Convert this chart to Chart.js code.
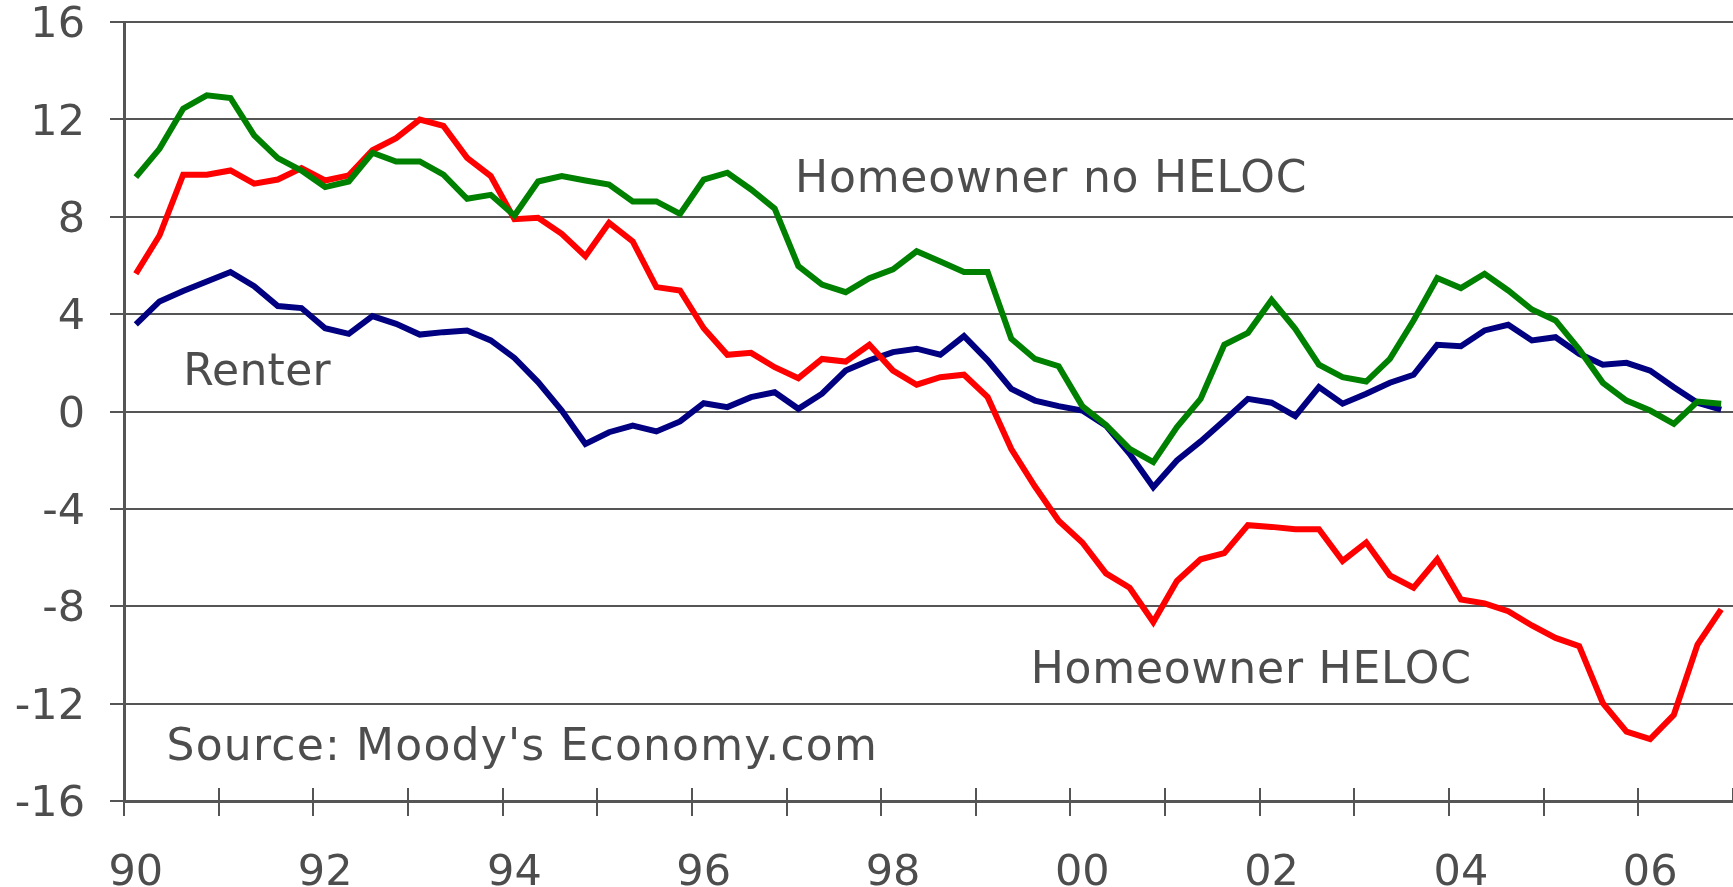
<!DOCTYPE html>
<html>
<head>
<meta charset="utf-8">
<script src="https://cdn.jsdelivr.net/npm/chart.js@4/dist/chart.umd.min.js"></script>
<style>
  html, body { margin: 0; padding: 0; background: #ffffff; }
  #wrap { width: 1733px; height: 887px; position: relative; }
</style>
</head>
<body>
<div id="wrap"><canvas id="c"></canvas></div>
<script>
// ---- data (quarterly, 1990Q1 .. 2006Q4) ----
const years = ['1990','1991','1992','1993','1994','1995','1996','1997','1998','1999','2000','2001','2002','2003','2004','2005','2006'];
const quarters = ['Q1','Q2','Q3','Q4'];
const categories = years.flatMap(y => quarters.map(q => y + ' ' + q));
const tickLabels = ['90','92','94','96','98','00','02','04','06'];
const yTicks = [-16,-12,-8,-4,0,4,8,12,16];

const homeownerNoHeloc = [
  9.63, 10.79, 12.44, 12.99, 12.88, 11.34, 10.41, 9.90, 9.22, 9.45,
  10.63, 10.27, 10.27, 9.73, 8.74, 8.90, 8.05, 9.45, 9.67, 9.49,
  9.32, 8.63, 8.63, 8.12, 9.53, 9.81, 9.12, 8.33, 5.97, 5.21,
  4.90, 5.48, 5.84, 6.58, 6.16, 5.73, 5.73, 2.99, 2.16, 1.86,
  0.22, -0.55, -1.53, -2.08, -0.64, 0.52, 2.74, 3.23, 4.58, 3.40,
  1.92, 1.41, 1.23, 2.16, 3.74, 5.48, 5.07, 5.66, 4.97, 4.19,
  3.74, 2.55, 1.18, 0.45, 0.04, -0.51, 0.41, 0.32
];
const homeownerHeloc = [
  5.66, 7.23, 9.73, 9.73, 9.90, 9.36, 9.53, 10.00, 9.49, 9.70,
  10.73, 11.23, 11.99, 11.73, 10.42, 9.67, 7.90, 7.96, 7.30, 6.38,
  7.75, 6.99, 5.11, 4.97, 3.42, 2.33, 2.41, 1.82, 1.37, 2.16,
  2.05, 2.74, 1.68, 1.10, 1.41, 1.51, 0.59, -1.54, -3.08, -4.49,
  -5.38, -6.65, -7.24, -8.65, -6.96, -6.07, -5.82, -4.67, -4.74, -4.84,
  -4.84, -6.14, -5.38, -6.73, -7.24, -6.07, -7.72, -7.88, -8.20, -8.79,
  -9.30, -9.64, -11.98, -13.15, -13.46, -12.46, -9.57, -8.13
];
const renter = [
  3.58, 4.52, 4.95, 5.34, 5.73, 5.15, 4.33, 4.25, 3.42, 3.19,
  3.92, 3.60, 3.16, 3.26, 3.33, 2.92, 2.20, 1.21, 0.04, -1.33,
  -0.85, -0.58, -0.82, -0.41, 0.34, 0.18, 0.59, 0.79, 0.11, 0.73,
  1.68, 2.10, 2.44, 2.58, 2.33, 3.10, 2.10, 0.93, 0.45, 0.22,
  0.04, -0.58, -1.74, -3.11, -2.01, -1.23, -0.37, 0.52, 0.36, -0.19,
  1.00, 0.32, 0.73, 1.18, 1.51, 2.74, 2.68, 3.33, 3.56, 2.92,
  3.05, 2.37, 1.92, 2.00, 1.68, 1.00, 0.36, 0.08
];

// annotation texts anchored in data space: [text, category index, value, letter spacing]
const annotations = [
  ['Homeowner no HELOC', 27.86, 9.0, '0.8px'],
  ['Renter', 2.0, 1.1, '0.3px'],
  ['Homeowner HELOC', 37.82, -11.15, '0.8px'],
  ['Source: Moody\'s Economy.com', 1.3, -14.33, '1.2px']
];

const TEXT = '#4d4d4d';
const GRID = '#555555';

const upperTicks = {
  id: 'upperTicks',
  afterDraw(chart) {
    const xs = chart.scales.x;
    const ctx = chart.ctx;
    const half = (xs.getPixelForValue(1) - xs.getPixelForValue(0)) / 2;
    ctx.save();
    ctx.strokeStyle = GRID;
    ctx.lineWidth = 2;
    for (let i = 0; i <= categories.length; i += 4) {
      const x = Math.round(xs.getPixelForValue(i) - half);
      ctx.beginPath();
      ctx.moveTo(x, xs.top - 13);
      ctx.lineTo(x, xs.top);
      ctx.stroke();
    }
    ctx.restore();
  }
};

const textPlugin = {
  id: 'texts',
  afterDatasetsDraw(chart) {
    const xs = chart.scales.x, ys = chart.scales.y;
    const ctx = chart.ctx;
    const half = (xs.getPixelForValue(1) - xs.getPixelForValue(0)) / 2;
    ctx.save();
    ctx.fillStyle = TEXT;
    ctx.font = '44px "DejaVu Sans"';
    ctx.textAlign = 'left';
    ctx.textBaseline = 'alphabetic';
    for (const [t, xi, v, ls] of annotations) {
      ctx.letterSpacing = ls;
      const x = xs.getPixelForValue(0) + xi * 2 * half;
      ctx.fillText(t, x, ys.getPixelForValue(v));
    }
    ctx.restore();
  }
};

new Chart(document.getElementById('c'), {
  type: 'line',
  data: {
    labels: categories,
    datasets: [
      { label: 'Homeowner no HELOC', data: homeownerNoHeloc, borderColor: '#008000', backgroundColor: '#008000' },
      { label: 'Homeowner HELOC', data: homeownerHeloc, borderColor: '#ff0000', backgroundColor: '#ff0000' },
      { label: 'Renter', data: renter, borderColor: '#000080', backgroundColor: '#000080' }
    ]
  },
  options: {
    responsive: true,
    maintainAspectRatio: false,
    devicePixelRatio: 1,
    animation: false,
    layout: { padding: { top: 22, left: 0, right: 0, bottom: 0 } },
    elements: {
      line: { borderWidth: 6, tension: 0, borderJoinStyle: 'miter', borderCapStyle: 'butt' },
      point: { radius: 0, hoverRadius: 0 }
    },
    plugins: { legend: { display: false }, tooltip: { enabled: false } },
    scales: {
      x: {
        type: 'category',
        offset: true,
        grid: {
          offset: true,
          drawOnChartArea: false,
          drawTicks: true,
          tickLength: 15,
          lineWidth: 2,
          color: (c) => (c.index % 4 === 0 ? GRID : 'rgba(0,0,0,0)')
        },
        border: { display: true, color: GRID, width: 3 },
        ticks: {
          autoSkip: false,
          maxRotation: 0,
          minRotation: 0,
          padding: 32,
          color: TEXT,
          font: { family: 'DejaVu Sans', size: 43 },
          callback: (v, i) => (i % 8 === 0 ? tickLabels[i / 8] : '')
        },
        afterFit: (s) => { s.height = 86; s.paddingLeft = 0; s.paddingRight = 0; }
      },
      y: {
        min: -16,
        max: 16,
        afterBuildTicks: (s) => { s.ticks = yTicks.map(v => ({ value: v })); },
        grid: { color: GRID, lineWidth: 2, tickLength: 14, drawTicks: true },
        border: { display: true, color: GRID, width: 3 },
        ticks: {
          padding: 25,
          labelOffset: 4,
          color: TEXT,
          font: { family: 'DejaVu Sans', size: 43 },
          callback: (v) => String(v)
        },
        afterFit: (s) => { s.width = 124; s.paddingTop = 0; s.paddingBottom = 0; }
      }
    }
  },
  plugins: [upperTicks, textPlugin]
});
</script>
</body>
</html>
